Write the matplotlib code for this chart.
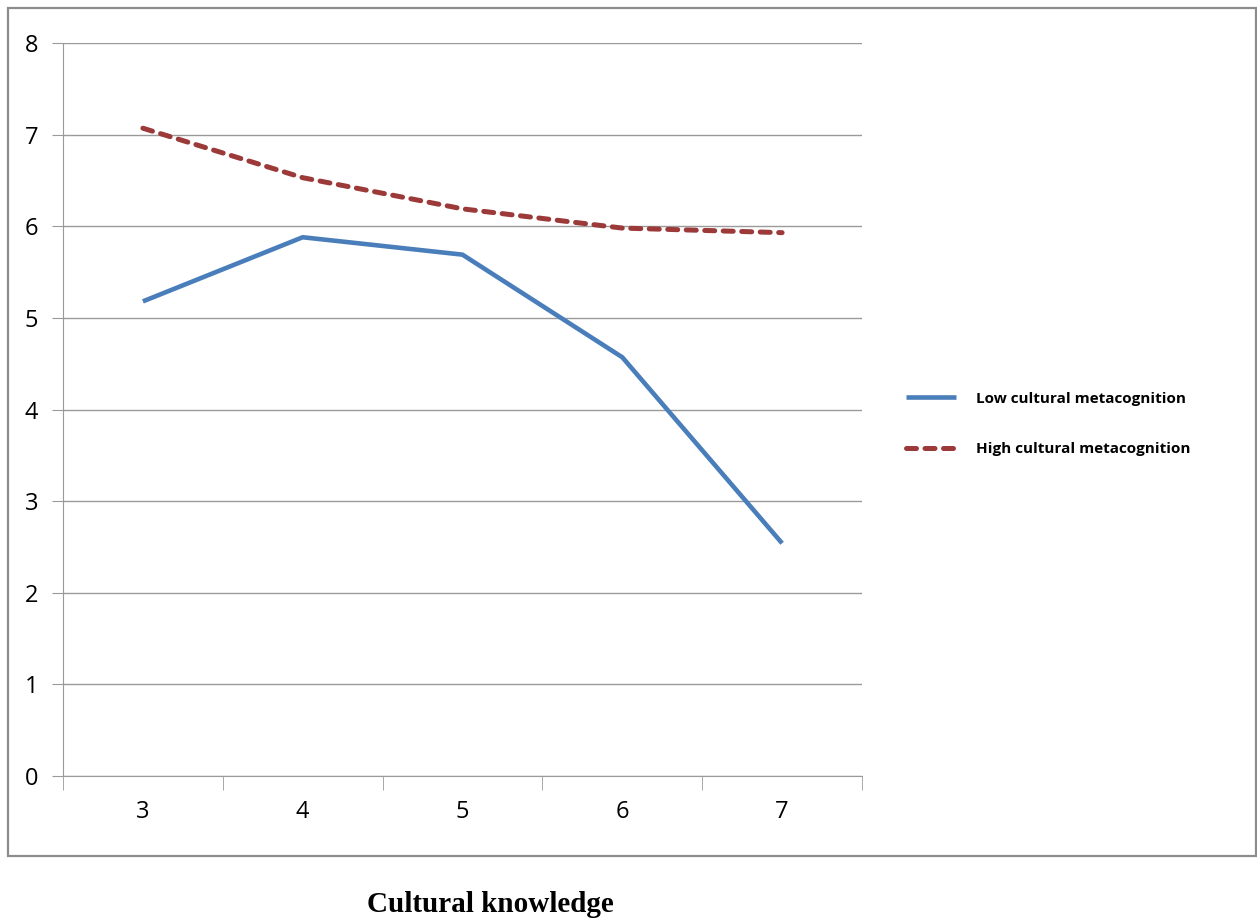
import matplotlib
matplotlib.use('Agg')
import matplotlib.pyplot as plt
from matplotlib.patches import Rectangle

# 데이터
categories = ['3', '4', '5', '6', '7']
low_meta = [5.18, 5.88, 5.69, 4.57, 2.54]
high_meta = [7.07, 6.53, 6.19, 5.98, 5.93]
y_ticks = [0, 1, 2, 3, 4, 5, 6, 7, 8]

W, H = 1257, 922
fig = plt.figure(figsize=(W / 100, H / 100), dpi=100)
fig.patch.set_facecolor('white')

# 차트 외곽 테두리
fig.patches.append(Rectangle((8 / W, 1 - 856 / H), (1256 - 8) / W, (856 - 8) / H,
                             transform=fig.transFigure, fill=False,
                             edgecolor='#8c8c8c', linewidth=1.6))

ax = fig.add_axes([63 / W, 1 - 776 / H, (862 - 63) / W, (776 - 43) / H])
x = list(range(len(categories)))

ax.plot(x, low_meta, color='#4a7ebb', linewidth=3.3, solid_capstyle='butt',
        label='Low cultural metacognition', zorder=3)
ax.plot(x, high_meta, color='#9b3a38', linewidth=3.6, linestyle=(0, (2.0, 1.7)),
        dash_capstyle='round', label='High cultural metacognition', zorder=3)

ax.set_xlim(-0.5, len(categories) - 0.5)
ax.set_ylim(0, 8)
ax.set_yticks(y_ticks)
ax.set_yticklabels([str(v) for v in y_ticks], fontsize=17, family='Open Sans')
ax.set_xticks(x)
ax.set_xticklabels(categories, fontsize=17, family='Open Sans')
ax.set_xticks([i - 0.5 for i in range(len(categories) + 1)], minor=True)

ax.grid(axis='y', color='#9a9a9a', linewidth=1.0)
ax.set_axisbelow(True)
for s in ['top', 'right']:
    ax.spines[s].set_visible(False)
ax.spines['left'].set_color('#9a9a9a')
ax.spines['bottom'].set_color('#9a9a9a')
ax.tick_params(axis='y', length=8, color='#9a9a9a', pad=10)
ax.tick_params(axis='x', which='major', length=0, pad=17)
ax.tick_params(axis='x', which='minor', length=10, color='#9a9a9a')

leg = fig.legend(loc='upper left', bbox_to_anchor=(892 / W, 1 - 378 / H),
                 frameon=False, handlelength=3.3, handletextpad=1.3,
                 labelspacing=2.4, prop={'family': 'Open Sans', 'weight': 'bold', 'size': 11})

fig.text(490 / W, 1 - 904 / H, 'Cultural knowledge', ha='center', va='center',
         fontsize=21, fontweight='bold', family='Liberation Serif')

plt.savefig('out.png', dpi=100)
